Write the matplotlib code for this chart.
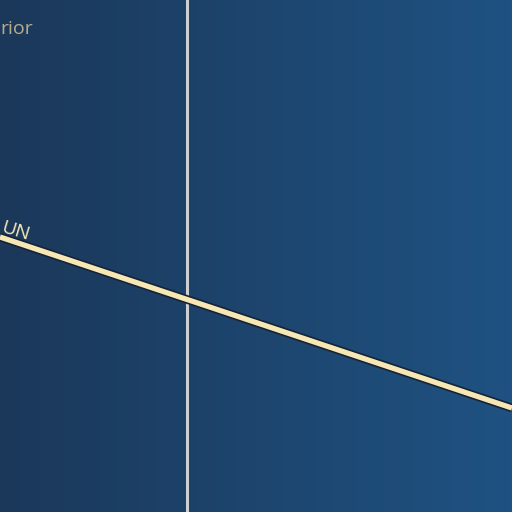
import matplotlib
matplotlib.use("Agg")
import matplotlib.pyplot as plt
import matplotlib.patheffects as pe
import numpy as np
from matplotlib.colors import LinearSegmentedColormap

# Scene values (pixel-like data coordinates, y down)
ecliptic_x = [0, 512]
ecliptic_y = [237, 408]
meridian_x = 187
bg_colors = ["#1b385a", "#1f5282"]
top_label = "rior"
line_label = "UN"

fig = plt.figure(figsize=(5.12, 5.12), dpi=100)
ax = fig.add_axes([0, 0, 1, 1])
ax.set_xlim(0, 512)
ax.set_ylim(512, 0)
ax.axis("off")

# background gradient
cmap = LinearSegmentedColormap.from_list("bg", bg_colors)
grad = np.linspace(0, 1, 256).reshape(1, -1)
ax.imshow(grad, cmap=cmap, aspect="auto", extent=[0, 512, 512, 0], zorder=0)

# vertical meridian
ax.axvline(meridian_x, color="#cfcfcf", lw=2.2, zorder=1)

# ecliptic line with dark outline
ax.plot(ecliptic_x, ecliptic_y, color="#f6e7b5", lw=3.8, solid_capstyle="butt", zorder=2,
        path_effects=[pe.Stroke(linewidth=6.2, foreground="#152335"), pe.Normal()])

ax.text(0, 29, top_label, color="#b5ae8e", fontsize=14, va="center", ha="left",
        family="Open Sans")
ax.text(0.5, 232, line_label, color="#f6e7b5", fontsize=14, va="baseline", ha="left",
        rotation=-17, rotation_mode="anchor", family="Open Sans")

fig.savefig("out.png", dpi=100)
